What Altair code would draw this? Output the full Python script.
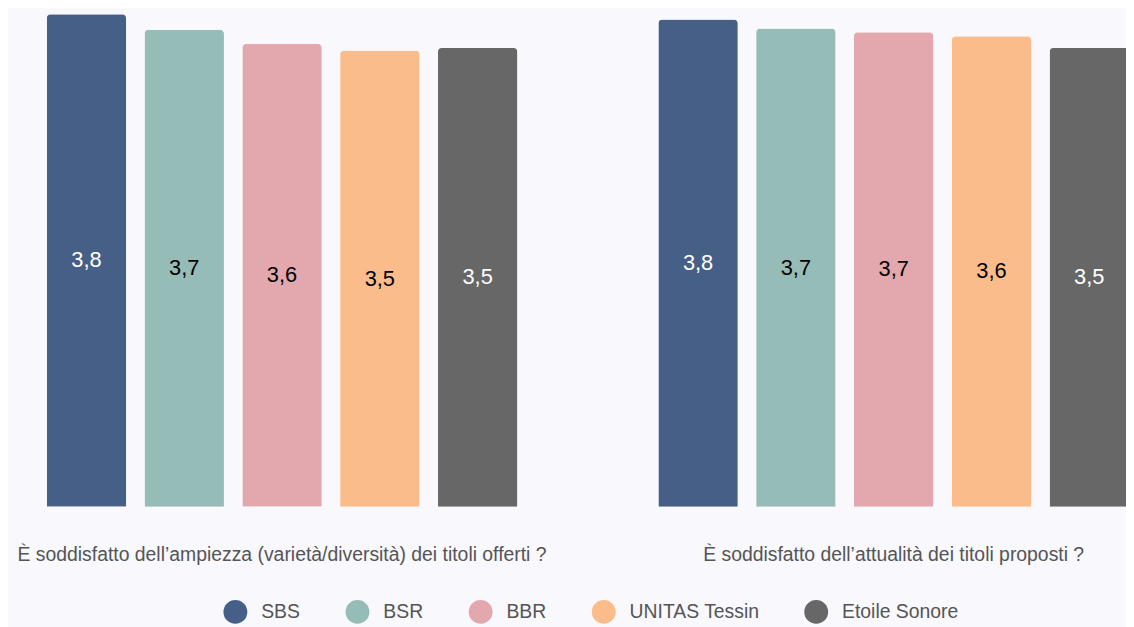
import altair as alt
import pandas as pd

questions = [
    "È soddisfatto dell’ampiezza (varietà/diversità) dei titoli offerti ?",
    "È soddisfatto dell’attualità dei titoli proposti ?",
]
orgs = ["SBS", "BSR", "BBR", "UNITAS Tessin", "Etoile Sonore"]
values_q1 = [3.80, 3.68, 3.57, 3.52, 3.54]
values_q2 = [3.76, 3.69, 3.66, 3.63, 3.54]

palette = ["#465f86", "#95bcb6", "#e2a8ad", "#fbbc8b", "#676767"]
FONT = "Liberation Sans"

rows = []
for q, vals in zip(questions, [values_q1, values_q2]):
    for o, v in zip(orgs, vals):
        rows.append({"question": q, "org": o, "value": v})
df = pd.DataFrame(rows)

x_enc = alt.X(
    "question:N",
    sort=questions,
    scale=alt.Scale(range=[0, 1168], paddingInner=0.2305, paddingOuter=0.0633),
    axis=alt.Axis(
        title=None, labelAngle=0, domain=False, ticks=False, tickSize=0,
        labelPadding=54, labelBaseline="alphabetic", labelFontSize=19.5,
        labelFont=FONT, labelColor="#555555", labelLimit=1000,
    ),
)
xoff_enc = alt.XOffset(
    "org:N", sort=orgs,
    scale=alt.Scale(paddingInner=0.1878, paddingOuter=0),
)
y_scale = alt.Scale(domain=[0, 3.831], nice=False, zero=True)

base = alt.Chart(df)

bars = base.mark_bar(
    cornerRadiusTopLeft=4, cornerRadiusTopRight=4
).encode(
    x=x_enc,
    xOffset=xoff_enc,
    y=alt.Y("value:Q", scale=y_scale, axis=None),
    color=alt.Color(
        "org:N", sort=orgs,
        scale=alt.Scale(domain=orgs, range=palette),
        legend=alt.Legend(
            title=None, orient="none", direction="horizontal",
            legendX=217, legendY=594, symbolType="circle", symbolSize=576,
            symbolStrokeWidth=0, symbolOpacity=1, labelFontSize=19.5,
            labelFont=FONT, labelColor="#555555", labelOffset=14,
            columnPadding=45, padding=0, labelLimit=400,
        ),
    ),
)

labels = base.transform_calculate(
    mid="datum.value / 2",
    lab="replace(format(datum.value, '.1f'), '.', ',')",
).mark_text(
    fontSize=22, font=FONT, baseline="middle", align="center"
).encode(
    x=x_enc,
    xOffset=xoff_enc,
    y=alt.Y("mid:Q", scale=y_scale, axis=None),
    text="lab:N",
    color=alt.condition(
        "datum.org == 'SBS' || datum.org == 'Etoile Sonore'",
        alt.value("white"), alt.value("black"),
    ),
)

chart = alt.layer(bars, labels).properties(
    width=1126, height=500,
    background="#f8f8fd",
    padding={"left": 0, "top": 0, "right": 0, "bottom": 119},
    autosize=alt.AutoSizeParams(type="none"),
).configure_view(strokeWidth=0)

chart.save("out.html", embed_options={"renderer": "svg", "actions": False})
